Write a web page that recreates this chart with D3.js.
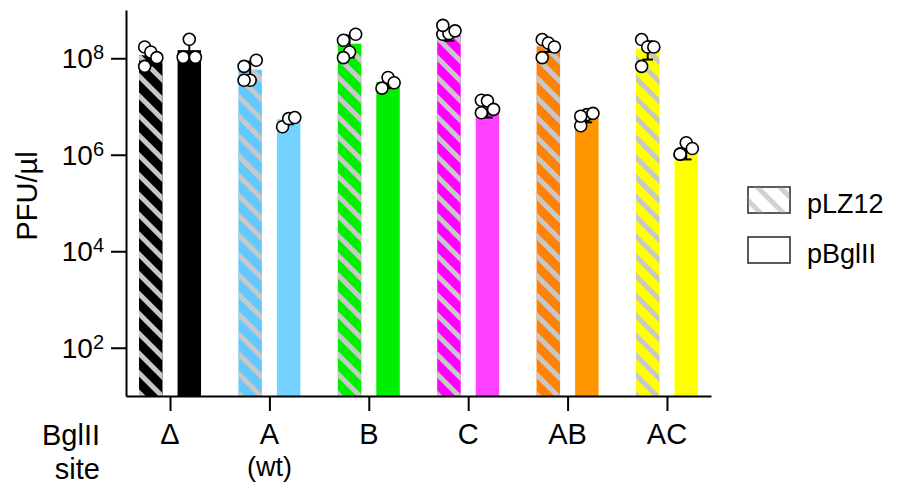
<!DOCTYPE html>
<html>
<head>
<meta charset="utf-8">
<script src="https://cdn.jsdelivr.net/npm/d3@7"></script>
<style>
  html, body { margin: 0; padding: 0; background: #ffffff; }
  svg { display: block; font-family: "Liberation Sans", Arial, Helvetica, sans-serif; }
</style>
</head>
<body>
<svg id="chart" width="899" height="489"></svg>
<script>
// BglII site variants on the x axis
const categories = ["Δ", "A", "B", "C", "AB", "AC"];
const subLabels = ["", "(wt)", "", "", "", ""];
const seriesNames = ["pLZ12", "pBglII"];

// Mean titres (PFU/µl) per variant
const meanLZ12  = [1.15e8, 5.8e7, 2.0e8, 3.0e8, 1.77e8, 1.59e8];
const meanBglII = [1.47e8, 5.4e6, 3.2e7, 9.0e6, 6.1e6, 1.15e6];

// Standard deviations
const sdLZ12  = [4.4e7, 2.7e7, 9.6e7, 7.0e7, 4.2e7, 6.5e7];
const sdBglII = [8.2e7, 1.1e6, 8.0e6, 3.1e6, 1.4e6, 3.5e5];

// Individual replicate titres
const repsLZ12 = [
  [1.71e8, 1.35e8, 1.03e8, 6.8e7],
  [6.8e7, 3.5e7, 9.1e7, 3.5e7],
  [2.36e8, 1.35e8, 3.14e8, 1.03e8],
  [3.14e8, 3.25e8, 3.7e8, 4.8e8],
  [2.44e8, 2.07e8, 1.71e8, 1.03e8],
  [2.44e8, 1.71e8, 1.71e8, 6.8e7]
];
const repsBglII = [
  [1.05e8, 2.47e8, 1.05e8],
  [3.8e6, 5.6e6, 5.9e6],
  [2.4e7, 4.0e7, 3.1e7],
  [1.35e7, 1.31e7, 8.7e6, 7.4e6],
  [4.0e6, 6.8e6, 7.2e6, 6.3e6],
  [1.03e6, 1.77e6, 1.35e6, 1.03e6]
];

// Axis ticks (exponents of ten)
const yTickExponents = [2, 4, 6, 8];

// Bar colours per variant
const colorLZ12  = ["#000000", "#62c8ff", "#00ee00", "#ff00ff", "#ff8208", "#ffff00"];
const colorBglII = ["#000000", "#74d2ff", "#00ee00", "#ff40ff", "#ff9600", "#ffff00"];

const svg = d3.select("#chart");
const plot = { left: 126, right: 711, top: 10, bottom: 396 };

const x = d3.scalePoint().domain(categories).range([plot.left, plot.right]).padding(0.443);
const xSub = d3.scaleBand().domain(seriesNames).range([-31, 31]).paddingInner(0.39);
const y = d3.scaleLog().domain([10, 1e9]).range([plot.bottom, plot.top]);
const bw = xSub.bandwidth();

// Stripe patterns
const defs = svg.append("defs");
defs.append("pattern")
  .attr("id", "stripes")
  .attr("patternUnits", "userSpaceOnUse")
  .attr("width", 14).attr("height", 14)
  .attr("patternTransform", "rotate(-45)")
  .append("rect").attr("x", 0).attr("y", 0).attr("width", 5).attr("height", 14)
  .attr("fill", "#c8c8c8");
defs.append("pattern")
  .attr("id", "stripesLegend")
  .attr("patternUnits", "userSpaceOnUse")
  .attr("width", 16).attr("height", 16)
  .attr("patternTransform", "translate(748,187) rotate(-45)")
  .append("rect").attr("x", 4).attr("y", 0).attr("width", 5).attr("height", 16)
  .attr("fill", "#d2d2d2");

// Build records
const records = [];
categories.forEach((c, i) => {
  records.push({ cat: c, s: "pLZ12", mean: meanLZ12[i], sd: sdLZ12[i], reps: repsLZ12[i], color: colorLZ12[i], hatched: true });
  records.push({ cat: c, s: "pBglII", mean: meanBglII[i], sd: sdBglII[i], reps: repsBglII[i], color: colorBglII[i], hatched: false });
});
const cx = d => x(d.cat) + xSub(d.s) + bw / 2;

// Bars
const bars = svg.append("g");
bars.selectAll("rect.bar").data(records).join("rect")
  .attr("class", "bar")
  .attr("x", d => x(d.cat) + xSub(d.s))
  .attr("width", bw)
  .attr("y", d => y(d.mean))
  .attr("height", d => plot.bottom - y(d.mean))
  .attr("fill", d => d.color);
bars.selectAll("rect.hatch").data(records.filter(d => d.hatched)).join("rect")
  .attr("class", "hatch")
  .attr("x", d => x(d.cat) + xSub(d.s))
  .attr("width", bw)
  .attr("y", d => y(d.mean))
  .attr("height", d => plot.bottom - y(d.mean))
  .attr("fill", "url(#stripes)");

// Error bars (mean ± SD)
const cap = bw * 0.45;
const err = svg.append("g").attr("stroke", "#000").attr("stroke-width", 2).attr("fill", "none");
records.forEach(d => {
  const hi = y(d.mean + d.sd), lo = y(Math.max(d.mean - d.sd, 11));
  const g = err.append("g");
  g.append("line").attr("x1", cx(d)).attr("x2", cx(d)).attr("y1", hi).attr("y2", lo);
  g.append("line").attr("x1", cx(d) - cap / 2).attr("x2", cx(d) + cap / 2).attr("y1", hi).attr("y2", hi);
  g.append("line").attr("x1", cx(d) - cap / 2).attr("x2", cx(d) + cap / 2).attr("y1", lo).attr("y2", lo);
});

// Replicate points, spread across the bar by replicate index
const pts = [];
records.forEach(d => d.reps.forEach((v, k) => pts.push({ d, v, k })));
svg.append("g").selectAll("circle").data(pts).join("circle")
  .attr("cx", p => cx(p.d) + ((p.k % 3) - 1) * bw * 0.26)
  .attr("cy", p => y(p.v))
  .attr("r", 6)
  .attr("fill", "#fff")
  .attr("stroke", "#000")
  .attr("stroke-width", 1.6);

// Y axis
const yAxis = svg.append("g").attr("transform", `translate(${plot.left},0)`)
  .call(d3.axisLeft(y).tickValues(yTickExponents.map(e => Math.pow(10, e))).tickSize(15).tickSizeOuter(0).tickFormat(""));
yAxis.select(".domain").attr("stroke-width", 2);
yAxis.selectAll(".tick line").attr("stroke-width", 2);

const yLab = svg.append("g");
yTickExponents.forEach(e => {
  const t = yLab.append("text")
    .attr("x", 104).attr("y", y(Math.pow(10, e)) + 10)
    .attr("text-anchor", "end")
    .attr("font-size", 28).attr("fill", "#000");
  t.append("tspan").text("10");
  t.append("tspan").attr("dy", -9).attr("font-size", 20).text(e);
});

svg.append("text")
  .attr("transform", `translate(37,${196}) rotate(-90)`)
  .attr("text-anchor", "middle")
  .attr("font-size", 29)
  .text("PFU/µl");

// X axis
const xAxis = svg.append("g").attr("transform", `translate(0,${plot.bottom})`)
  .call(d3.axisBottom(x).tickSize(15).tickSizeOuter(0).tickFormat(""));
xAxis.select(".domain").attr("stroke-width", 2);
xAxis.selectAll(".tick line").attr("stroke-width", 2);

const xl = svg.append("g").attr("font-size", 29).attr("text-anchor", "middle");
categories.forEach((c, i) => {
  xl.append("text").attr("x", x(c)).attr("y", 444).text(c);
  if (subLabels[i]) xl.append("text").attr("x", x(c)).attr("y", 476).attr("font-size", 27).text(subLabels[i]);
});
const site = svg.append("g").attr("font-size", 29).attr("text-anchor", "end");
site.append("text").attr("x", 100).attr("y", 445).text("BglII");
site.append("text").attr("x", 100).attr("y", 479).text("site");

// Legend
const legend = svg.append("g");
seriesNames.forEach((s, i) => {
  const gy = 187 + i * 50;
  legend.append("rect").attr("x", 748).attr("y", gy).attr("width", 42).attr("height", 26)
    .attr("fill", "#fff").attr("stroke", "#333").attr("stroke-width", 1.6);
  if (i === 0) {
    legend.append("rect").attr("x", 748.8).attr("y", gy + 0.8).attr("width", 40.4).attr("height", 24.4)
      .attr("fill", "url(#stripesLegend)");
  }
  legend.append("text").attr("x", 807).attr("y", gy + 26).attr("font-size", 27).text(s);
});
</script>
</body>
</html>
